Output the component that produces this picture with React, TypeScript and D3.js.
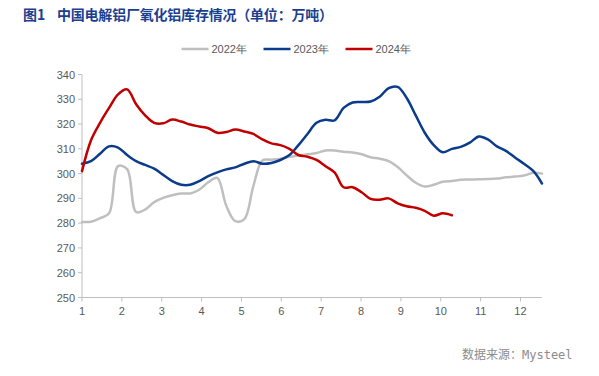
import React from "react";
import * as d3 from "d3";

const seriesNames = ["2022年", "2023年", "2024年"];
const seriesColors = ["#BFBFBF", "#0B3C8C", "#C00000"];

const yTicks = [250, 260, 270, 280, 290, 300, 310, 320, 330, 340];
const monthTicks = [1, 2, 3, 4, 5, 6, 7, 8, 9, 10, 11, 12];

// weekly inventory (万吨)
const data2022 = [
  280.5, 280.6, 282, 284, 303, 301.8, 284.5, 285.5, 288.5, 290.2, 291.3, 292, 292, 293.5,
  296.5, 298.3, 287, 280.8, 281.6, 295, 305.3, 305.6, 306, 306.8, 307.3, 307.8, 308.3,
  309.3, 309.3, 308.8, 308.5, 307.8, 306.6, 306, 305, 302.7, 299.3, 296.3, 294.8, 295.5,
  296.7, 297, 297.5, 297.6, 297.7, 297.8, 298, 298.5, 298.8, 299.2, 300.3, 300,
];
const data2023 = [
  304, 305, 308, 311, 310.5, 307.5, 305, 303.5, 302, 299.5, 297, 295.5, 295.5, 297, 299,
  300.5, 301.7, 302.5, 304, 305, 304, 304.3, 305.5, 307.5, 311.5, 316, 320.5, 321.7, 321.5,
  326.5, 328.7, 328.9, 329.1, 331, 334.5, 335, 330.5, 323.5, 316.5, 311.5, 308.6, 310,
  310.8, 312.5, 315, 313.8, 311, 309.2, 306.5, 304, 301.2, 296,
];
const data2024 = [
  301, 313.5, 320.5, 326.5, 332, 334, 328, 323.5, 320.5, 320.3, 321.8, 321, 319.8, 319,
  318.3, 316.5, 316.8, 317.8, 317, 316, 313.8, 312.2, 311.5, 310, 307.5, 306.8, 305.5, 303,
  300.5, 294.5, 294.5, 292.5, 289.8, 289.5, 290, 288, 286.8, 286.2, 285, 283, 284, 283.2,
];
const allSeries = [data2022, data2023, data2024];

const W = 599;
const H = 376;
const left = 82;
const right = 542;
const top = 74.5;
const bottom = 297.5;
const lastMonth = 12.54;
const weeksPerYear = 52;

export default function App() {
  const x = d3.scaleLinear().domain([1, lastMonth]).range([left, right]);
  const y = d3.scaleLinear().domain([250, 340]).range([bottom, top]);
  const weekToMonth = (i: number) => 1 + (i * (lastMonth - 1)) / (weeksPerYear - 1);
  const line = d3
    .line<number>()
    .x((_, i) => x(weekToMonth(i)))
    .y((d) => y(d))
    .curve(d3.curveCatmullRom.alpha(0.5));

  const legendX = [181.5, 263.5, 345.5];
  const axisColor = "#BFBFBF";
  const textColor = "#595959";
  const titleFont = "'Noto Sans CJK SC', sans-serif";

  return (
    <svg
      width={W}
      height={H}
      style={{ position: "absolute", left: 0, top: 0, background: "#fff" }}
      fontFamily="Arial, 'Liberation Sans', sans-serif"
    >
      <text x={23} y={20} fontSize={14} fontWeight="bold" fill="#1B3F8F" fontFamily={titleFont}>
        图1
      </text>
      <text
        x={57}
        y={20}
        fontSize={14}
        fontWeight="bold"
        fill="#1B3F8F"
        fontFamily={titleFont}
        textLength={276}
        lengthAdjust="spacing"
      >
        中国电解铝厂氧化铝库存情况（单位：万吨）
      </text>

      {seriesNames.map((name, k) => (
        <g key={name}>
          <line
            x1={legendX[k]}
            x2={legendX[k] + 27}
            y1={49}
            y2={49}
            stroke={seriesColors[k]}
            strokeWidth={2.5}
          />
          <text x={legendX[k] + 30} y={53} fontSize={11} fill={textColor}>
            {name}
          </text>
        </g>
      ))}

      {/* y axis */}
      <line x1={left} x2={left} y1={top} y2={bottom} stroke={axisColor} strokeWidth={1} />
      {yTicks.map((t) => (
        <g key={t}>
          <line x1={left - 4} x2={left} y1={y(t)} y2={y(t)} stroke={axisColor} />
          <text x={75} y={y(t) + 4} fontSize={11} fill={textColor} textAnchor="end">
            {t}
          </text>
        </g>
      ))}

      {/* x axis */}
      <line x1={left} x2={right} y1={bottom} y2={bottom} stroke={axisColor} strokeWidth={1} />
      {monthTicks.map((m) => (
        <g key={m}>
          <line x1={x(m)} x2={x(m)} y1={bottom} y2={bottom + 4} stroke={axisColor} />
          <text x={x(m)} y={315} fontSize={11} fill={textColor} textAnchor="middle">
            {m}
          </text>
        </g>
      ))}

      {allSeries.map((s, k) => (
        <path
          key={k}
          d={line(s) || ""}
          fill="none"
          stroke={seriesColors[k]}
          strokeWidth={2.5}
          strokeLinejoin="round"
          strokeLinecap="round"
        />
      ))}

      <text
        x={462}
        y={359}
        fontSize={12}
        fill="#8C8C8C"
        fontFamily="'DejaVu Sans Mono', 'Noto Sans CJK SC', monospace"
      >
        数据来源：Mysteel
      </text>
    </svg>
  );
}
